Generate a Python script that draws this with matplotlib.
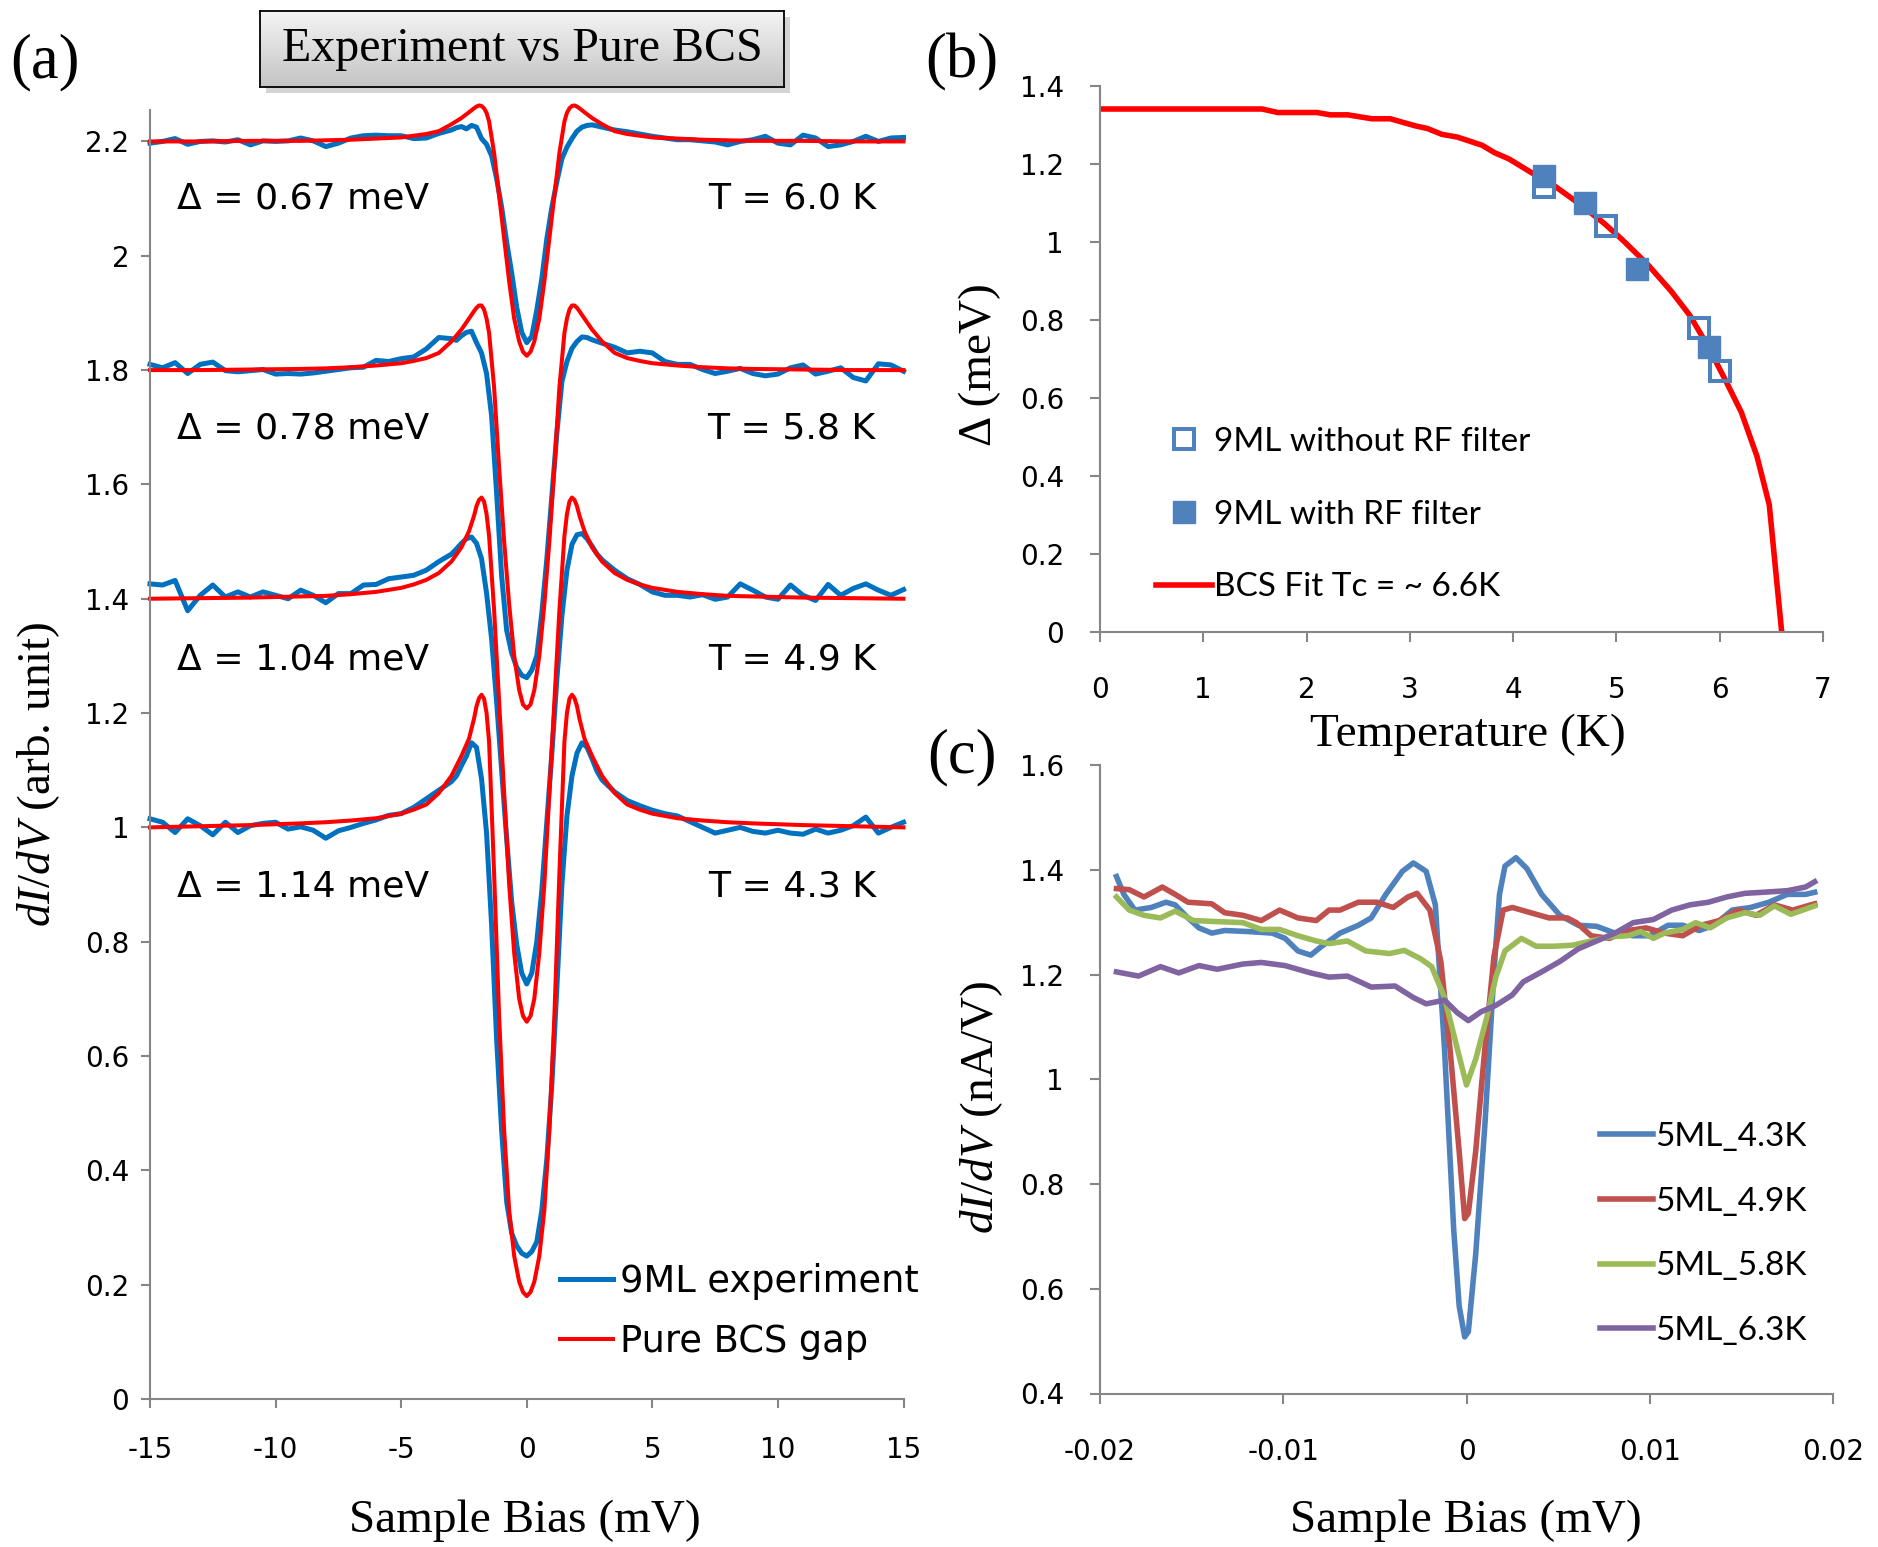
import numpy as np
import matplotlib
matplotlib.use("Agg")
import matplotlib.pyplot as plt
from matplotlib.patches import Rectangle
from matplotlib.colors import LinearSegmentedColormap

W, H = 1878, 1547

# ---------------- panel (a): 9ML spectra vs pure BCS ----------------
bias_exp = [-15.0, -14.5, -14.0, -13.5, -13.0, -12.5, -12.0, -11.5, -11.0, -10.5, -10.0, -9.5,
            -9.0, -8.5, -8.0, -7.5, -7.0, -6.5, -6.0, -5.5, -5.0, -4.5, -4.0, -3.5,
            -3.0, -2.8, -2.6, -2.4, -2.2, -2.0, -1.8, -1.6, -1.4, -1.2, -1.0, -0.8, -0.6, -0.4, -0.2,
            0.0, 0.2, 0.4, 0.6, 0.8, 1.0, 1.2, 1.4, 1.6, 1.8, 2.0, 2.2, 2.4, 2.6, 2.8, 3.0,
            3.5, 4.0, 4.5, 5.0, 5.5, 6.0, 6.5, 7.0, 7.5, 8.0, 8.5, 9.0,
            9.5, 10.0, 10.5, 11.0, 11.5, 12.0, 12.5, 13.0, 13.5, 14.0, 14.5, 15.0]

exp_43K = [1.015, 1.009, 0.991, 1.015, 1.003, 0.987, 1.009, 0.991, 1.003, 1.007, 1.009, 0.997,
           1.001, 0.995, 0.981, 0.994, 1.000, 1.007, 1.013, 1.021, 1.024, 1.035, 1.050, 1.065,
           1.080, 1.090, 1.108, 1.125, 1.148, 1.140, 1.085, 0.990, 0.830, 0.630, 0.470, 0.345, 0.290,
           0.268, 0.255, 0.250, 0.258, 0.275, 0.330, 0.420, 0.550, 0.720, 0.900, 1.020, 1.090, 1.130,
           1.148, 1.140, 1.120, 1.098, 1.083,
           1.062, 1.047, 1.038, 1.030, 1.024, 1.020, 1.010, 1.000, 0.990, 0.995, 1.000, 0.993,
           0.990, 0.995, 0.990, 0.988, 0.997, 0.990, 0.995, 1.003, 1.018, 0.990, 1.000, 1.009]

exp_49K = [1.426, 1.424, 1.432, 1.379, 1.406, 1.424, 1.403, 1.412, 1.403, 1.412, 1.406, 1.400,
           1.415, 1.406, 1.393, 1.409, 1.409, 1.424, 1.425, 1.435, 1.438, 1.441, 1.450, 1.465,
           1.478, 1.487, 1.497, 1.505, 1.508, 1.497, 1.470, 1.410, 1.330, 1.220, 1.100, 0.980, 0.870,
           0.795, 0.745, 0.726, 0.745, 0.800, 0.890, 1.010, 1.130, 1.260, 1.370, 1.450, 1.495, 1.512,
           1.514, 1.505, 1.492, 1.478, 1.468,
           1.450, 1.435, 1.425, 1.412, 1.406, 1.406, 1.403, 1.407, 1.399, 1.403, 1.426, 1.415,
           1.403, 1.399, 1.424, 1.406, 1.397, 1.425, 1.406, 1.418, 1.426, 1.415, 1.406, 1.416]

exp_58K = [1.810, 1.804, 1.813, 1.794, 1.810, 1.814, 1.799, 1.797, 1.799, 1.801, 1.793, 1.794,
           1.793, 1.795, 1.798, 1.801, 1.804, 1.805, 1.817, 1.815, 1.820, 1.823, 1.837, 1.857,
           1.855, 1.852, 1.860, 1.866, 1.868, 1.848, 1.830, 1.794, 1.720, 1.585, 1.440, 1.345, 1.305,
           1.280, 1.266, 1.262, 1.275, 1.300, 1.375, 1.470, 1.580, 1.690, 1.780, 1.815, 1.838, 1.850,
           1.858, 1.857, 1.853, 1.850, 1.847,
           1.840, 1.830, 1.833, 1.830, 1.815, 1.810, 1.810, 1.801, 1.794, 1.798, 1.803, 1.794,
           1.790, 1.793, 1.804, 1.809, 1.793, 1.798, 1.804, 1.787, 1.781, 1.811, 1.809, 1.798]

exp_60K = [2.197, 2.200, 2.205, 2.195, 2.200, 2.201, 2.199, 2.203, 2.194, 2.201, 2.200, 2.201,
           2.206, 2.201, 2.191, 2.197, 2.206, 2.210, 2.211, 2.210, 2.210, 2.205, 2.206, 2.214,
           2.220, 2.224, 2.226, 2.222, 2.228, 2.225, 2.205, 2.195, 2.175, 2.135, 2.085, 2.024, 1.970,
           1.910, 1.866, 1.848, 1.859, 1.905, 1.960, 2.030, 2.085, 2.130, 2.170, 2.190, 2.205, 2.218,
           2.225, 2.228, 2.229, 2.227, 2.225,
           2.220, 2.217, 2.213, 2.209, 2.206, 2.203, 2.203, 2.201, 2.199, 2.194, 2.200, 2.203,
           2.209, 2.197, 2.194, 2.211, 2.206, 2.191, 2.194, 2.200, 2.209, 2.200, 2.206, 2.207]

bias_bcs = [-15, -13, -11, -9, -8, -7, -6, -5, -4.5, -4, -3.5, -3, -2.6, -2.3, -2.1, -2.0,
            -1.9, -1.8, -1.7, -1.6, -1.5, -1.3, -1.1, -0.9, -0.7, -0.5, -0.3, -0.15, 0,
            0.15, 0.3, 0.5, 0.7, 0.9, 1.1, 1.3, 1.5, 1.6, 1.7, 1.8, 1.9, 2.0, 2.1, 2.3, 2.6,
            3, 3.5, 4, 4.5, 5, 6, 7, 8, 9, 11, 13, 15]

bcs_43K = [1.000, 1.002, 1.004, 1.007, 1.009, 1.012, 1.016, 1.024, 1.031, 1.040, 1.060, 1.090,
           1.125, 1.155, 1.190, 1.212, 1.226, 1.232, 1.225, 1.200, 1.150, 0.920, 0.670, 0.470,
           0.330, 0.250, 0.205, 0.187, 0.180,
           0.187, 0.205, 0.250, 0.330, 0.470, 0.670, 0.920, 1.150, 1.200, 1.225, 1.232, 1.226,
           1.212, 1.190, 1.155, 1.125, 1.090, 1.060, 1.040, 1.031, 1.024, 1.016, 1.012, 1.009,
           1.007, 1.004, 1.002, 1.000]

bcs_49K = [1.400, 1.401, 1.402, 1.404, 1.405, 1.408, 1.412, 1.419, 1.425, 1.433, 1.445, 1.465,
           1.490, 1.518, 1.545, 1.562, 1.573, 1.577, 1.570, 1.548, 1.510, 1.380, 1.220, 1.060,
           0.900, 0.780, 0.700, 0.670, 0.660,
           0.670, 0.700, 0.780, 0.900, 1.060, 1.220, 1.380, 1.510, 1.548, 1.570, 1.577, 1.573,
           1.562, 1.545, 1.518, 1.490, 1.465, 1.445, 1.433, 1.425, 1.419, 1.412, 1.408, 1.405,
           1.404, 1.402, 1.401, 1.400]

bcs_58K = [1.800, 1.800, 1.801, 1.802, 1.803, 1.805, 1.808, 1.812, 1.816, 1.821, 1.830, 1.850,
           1.871, 1.890, 1.903, 1.909, 1.913, 1.913, 1.906, 1.890, 1.865, 1.770, 1.630, 1.500,
           1.390, 1.300, 1.240, 1.215, 1.208,
           1.215, 1.240, 1.300, 1.390, 1.500, 1.630, 1.770, 1.865, 1.890, 1.906, 1.913, 1.913,
           1.909, 1.903, 1.890, 1.871, 1.850, 1.830, 1.821, 1.816, 1.812, 1.808, 1.805, 1.803,
           1.802, 1.801, 1.800, 1.800]

bcs_60K = [2.200, 2.200, 2.201, 2.201, 2.202, 2.203, 2.205, 2.207, 2.210, 2.213, 2.218, 2.230,
           2.241, 2.251, 2.258, 2.261, 2.263, 2.262, 2.258, 2.250, 2.235, 2.180, 2.105, 2.030,
           1.955, 1.890, 1.850, 1.832, 1.825,
           1.832, 1.850, 1.890, 1.955, 2.030, 2.105, 2.180, 2.235, 2.250, 2.258, 2.262, 2.263,
           2.261, 2.258, 2.251, 2.241, 2.230, 2.218, 2.213, 2.210, 2.207, 2.205, 2.203, 2.202,
           2.201, 2.201, 2.200, 2.200]

gap_labels = ["Δ = 1.14 meV", "Δ = 1.04 meV", "Δ = 0.78 meV", "Δ = 0.67 meV"]
temp_labels = ["T = 4.3 K", "T = 4.9 K", "T = 5.8 K", "T = 6.0 K"]

# ---------------- panel (b): gap vs temperature ----------------
T_no_filter = [4.3, 4.9, 5.8, 6.0]
gap_no_filter = [1.14, 1.04, 0.78, 0.67]
T_filter = [4.3, 4.7, 5.2, 5.9]
gap_filter = [1.17, 1.10, 0.93, 0.73]
T_fit = [0, 1.57, 1.72, 2.1, 2.23, 2.4, 2.63, 2.81, 3.05, 3.17, 3.31, 3.46, 3.7, 3.82, 3.96,
         4.17, 4.41, 4.64, 4.88, 5.06, 5.3, 5.53, 5.71, 5.89, 6.07, 6.21, 6.36, 6.48, 6.6]
gap_fit = [1.341, 1.341, 1.332, 1.332, 1.326, 1.326, 1.316, 1.316, 1.298, 1.291, 1.276, 1.269,
           1.248, 1.229, 1.213, 1.179, 1.142, 1.098, 1.048, 1.005, 0.943, 0.874, 0.812, 0.731,
           0.638, 0.563, 0.451, 0.326, 0.0]

# ---------------- panel (c): 5ML spectra ----------------
bias_5ML_43K = [-0.0191, -0.0187, -0.0181, -0.0172, -0.0164, -0.0159, -0.0152, -0.0146, -0.0139,
                -0.0132, -0.0119, -0.0106, -0.0099, -0.0092, -0.0085, -0.0079, -0.0069, -0.0059,
                -0.0052, -0.0044, -0.0035, -0.0029, -0.0022, -0.0017, -0.0012, -0.0007, -0.0004,
                -0.0001, 0.0001, 0.0005, 0.0010, 0.0015, 0.0018, 0.0021, 0.0027, 0.0033, 0.0041,
                0.0051, 0.0061, 0.0071, 0.0081, 0.0091, 0.0100, 0.0110, 0.0118, 0.0127, 0.0135,
                0.0145, 0.0155, 0.0165, 0.0175, 0.0185, 0.0190]
didv_5ML_43K = [1.387, 1.353, 1.323, 1.328, 1.338, 1.333, 1.308, 1.289, 1.279, 1.284, 1.282, 1.279,
                1.269, 1.245, 1.237, 1.254, 1.279, 1.294, 1.308, 1.353, 1.397, 1.413, 1.397, 1.333,
                1.058, 0.714, 0.567, 0.508, 0.518, 0.665, 0.911, 1.205, 1.353, 1.407, 1.423, 1.402,
                1.353, 1.313, 1.294, 1.292, 1.279, 1.274, 1.274, 1.294, 1.294, 1.284, 1.294, 1.323,
                1.328, 1.338, 1.353, 1.353, 1.357]

bias_5ML_49K = [-0.0191, -0.0184, -0.0176, -0.0166, -0.0159, -0.0152, -0.0139, -0.0132, -0.0122,
                -0.0112, -0.0102, -0.0092, -0.0082, -0.0075, -0.0069, -0.0059, -0.0049, -0.0040,
                -0.0032, -0.0027, -0.0020, -0.0014, -0.0009, -0.0004, -0.0001, 0.0001, 0.0005,
                0.0010, 0.0015, 0.0020, 0.0025, 0.0035, 0.0045, 0.0055, 0.0060, 0.0068, 0.0078,
                0.0088, 0.0098, 0.0108, 0.0118, 0.0128, 0.0138, 0.0148, 0.0158, 0.0168, 0.0178, 0.0190]
didv_5ML_49K = [1.364, 1.362, 1.348, 1.367, 1.353, 1.338, 1.335, 1.318, 1.313, 1.303, 1.323, 1.308,
                1.303, 1.323, 1.323, 1.338, 1.338, 1.328, 1.348, 1.355, 1.323, 1.225, 1.058, 0.862,
                0.734, 0.744, 0.862, 1.058, 1.235, 1.323, 1.328, 1.318, 1.308, 1.308, 1.299, 1.274,
                1.269, 1.284, 1.289, 1.279, 1.274, 1.294, 1.303, 1.323, 1.313, 1.333, 1.323, 1.335]

bias_5ML_58K = [-0.0191, -0.0184, -0.0176, -0.0167, -0.0159, -0.0149, -0.0136, -0.0122, -0.0112,
                -0.0102, -0.0092, -0.0082, -0.0075, -0.0065, -0.0055, -0.0042, -0.0034, -0.0025,
                -0.0019, -0.0012, -0.0005, 0.0000, 0.0005, 0.0011, 0.0016, 0.0021, 0.0030, 0.0038,
                0.0048, 0.0058, 0.0068, 0.0078, 0.0088, 0.0095, 0.0102, 0.0108, 0.0118, 0.0125,
                0.0133, 0.0142, 0.0152, 0.0160, 0.0168, 0.0177, 0.0190]
didv_5ML_58K = [1.348, 1.323, 1.313, 1.308, 1.321, 1.303, 1.301, 1.299, 1.286, 1.286, 1.274, 1.264,
                1.259, 1.264, 1.245, 1.240, 1.246, 1.230, 1.215, 1.156, 1.058, 0.989, 1.038, 1.117,
                1.195, 1.245, 1.269, 1.254, 1.254, 1.256, 1.264, 1.272, 1.274, 1.282, 1.269, 1.279,
                1.286, 1.299, 1.289, 1.308, 1.318, 1.313, 1.331, 1.315, 1.331]

bias_5ML_63K = [-0.0191, -0.0179, -0.0167, -0.0157, -0.0146, -0.0136, -0.0122, -0.0112, -0.0099,
                -0.0085, -0.0075, -0.0065, -0.0052, -0.0039, -0.0029, -0.0022, -0.0012, -0.0005,
                0.0001, 0.0008, 0.0016, 0.0025, 0.0031, 0.0041, 0.0051, 0.0061, 0.0071, 0.0081,
                0.0091, 0.0102, 0.0112, 0.0122, 0.0132, 0.0142, 0.0152, 0.0162, 0.0175, 0.0185, 0.0190]
didv_5ML_63K = [1.205, 1.197, 1.215, 1.203, 1.217, 1.210, 1.220, 1.223, 1.217, 1.203, 1.195, 1.197,
                1.176, 1.178, 1.156, 1.144, 1.151, 1.127, 1.112, 1.129, 1.141, 1.161, 1.186, 1.205,
                1.225, 1.249, 1.264, 1.279, 1.299, 1.305, 1.323, 1.333, 1.338, 1.348, 1.355, 1.357,
                1.360, 1.367, 1.377]

AXIS_GRAY = "#868686"
SERIF = "Liberation Serif"

plt.rcParams["font.family"] = ["DejaVu Sans"]
plt.rcParams["mathtext.fontset"] = "custom"
plt.rcParams["mathtext.it"] = "Liberation Serif:italic"
plt.rcParams["mathtext.rm"] = "Liberation Serif"


def px_box(x0, y0, x1, y1):
    """Axes rectangle from pixel corners (top-left origin)."""
    return [x0 / W, 1 - y1 / H, (x1 - x0) / W, (y1 - y0) / H]


def fig_text(fig, x, y, s, **kw):
    fig.text(x / W, 1 - y / H, s, ha="center", va="center", **kw)


def excel_axes(ax, ypad, xpad, tick_len):
    for side in ("top", "right"):
        ax.spines[side].set_visible(False)
    for side in ("left", "bottom"):
        ax.spines[side].set_color(AXIS_GRAY)
        ax.spines[side].set_linewidth(1.5)
    ax.tick_params(direction="out", length=tick_len, width=1.5, color=AXIS_GRAY,
                   labelsize=20, labelcolor="black")
    ax.tick_params(axis="y", pad=ypad)
    ax.tick_params(axis="x", pad=xpad)


fig = plt.figure(figsize=(W / 100, H / 100), dpi=100)
fig.patch.set_facecolor("white")

# ---- (a)
ax_a = fig.add_axes(px_box(150, 110, 903.5, 1399))
blue, red = "#0070C0", "#FF0000"
for i, ys in enumerate([exp_43K, exp_49K, exp_58K, exp_60K]):
    ax_a.plot(bias_exp, ys, color=blue, lw=3.6, clip_on=False,
              label="9ML experiment" if i == 0 else None)
for i, ys in enumerate([bcs_43K, bcs_49K, bcs_58K, bcs_60K]):
    ax_a.plot(bias_bcs, ys, color=red, lw=2.9, clip_on=False,
              label="Pure BCS gap" if i == 0 else None)
ax_a.set_xlim(-15, 15)
ax_a.set_ylim(0, 2.255)
yt = [0, 0.2, 0.4, 0.6, 0.8, 1.0, 1.2, 1.4, 1.6, 1.8, 2.0, 2.2]
ax_a.set_yticks(yt, [f"{v:g}" for v in yt])
xt = [-15, -10, -5, 0, 5, 10, 15]
ax_a.set_xticks(xt, [str(v) for v in xt])
excel_axes(ax_a, ypad=8.5, xpad=20, tick_len=6.5)

for base, gl, tl in zip([0.8785, 1.2755, 1.6795, 2.0825], gap_labels, temp_labels):
    ax_a.text(-13.92, base, gl, ha="left", va="baseline", fontsize=26)
    ax_a.text(13.9, base, tl, ha="right", va="baseline", fontsize=26)

ax_a.legend(loc="center left", bbox_to_anchor=(0.5445, 0.068), frameon=False,
            borderpad=0, borderaxespad=0, handlelength=1.44, handletextpad=0.19,
            labelspacing=0.62, fontsize=26.5)

# title box with gradient fill and soft shadow
fig.add_artist(Rectangle((266 / W, 1 - 93 / H), 524 / W, 76 / H, transform=fig.transFigure,
                         facecolor="#a0a0a0", edgecolor="none", alpha=0.45, zorder=1))
ax_t = fig.add_axes(px_box(260, 11, 784, 87), zorder=2)
grad = np.linspace(0, 1, 64).reshape(-1, 1)
ax_t.imshow(grad, aspect="auto", extent=[0, 1, 0, 1],
            cmap=LinearSegmentedColormap.from_list("box", ["#f4f4f4", "#c4c4c4"]))
ax_t.set_xticks([])
ax_t.set_yticks([])
for sp in ax_t.spines.values():
    sp.set_color("black")
    sp.set_linewidth(1.3)
ax_t.text(0.5, 0.5, "Experiment vs Pure BCS", ha="center", va="center",
          family=SERIF, fontsize=34.5, transform=ax_t.transAxes)

fig_text(fig, 45, 62, "(a)", family=SERIF, fontsize=45)
fig_text(fig, 525, 1521, "Sample Bias (mV)", family=SERIF, fontsize=34)
fig_text(fig, 39, 774, r"$dI/dV$ (arb. unit)", family=SERIF, fontsize=34, rotation=90)

# ---- (b)
ax_b = fig.add_axes(px_box(1100, 86, 1823, 632))
steel = "#4F81BD"
ax_b.plot(T_fit, gap_fit, color="#FF0000", lw=4, zorder=2, label="BCS Fit Tc = ~ 6.6K")
ax_b.plot(T_no_filter, gap_no_filter, ls="none", marker="s", ms=15, mfc="none",
          mec=steel, mew=2.9, zorder=3, label="9ML without RF filter")
ax_b.plot(T_filter, gap_filter, ls="none", marker="s", ms=15.5, mfc=steel,
          mec=steel, mew=1, zorder=4, label="9ML with RF filter")
ax_b.set_xlim(0, 7)
ax_b.set_ylim(0, 1.4)
yt = [0, 0.2, 0.4, 0.6, 0.8, 1.0, 1.2, 1.4]
ax_b.set_yticks(yt, [f"{v:g}" for v in yt])
xt = [0, 1, 2, 3, 4, 5, 6, 7]
ax_b.set_xticks(xt, [str(v) for v in xt])
excel_axes(ax_b, ypad=19, xpad=25, tick_len=7)
h, l = ax_b.get_legend_handles_labels()
ax_b.legend([h[1], h[2], h[0]], [l[1], l[2], l[0]], loc="center left",
            bbox_to_anchor=(0.0775, 0.215), frameon=False, borderpad=0, borderaxespad=0,
            handlelength=1.68, handletextpad=0.06, labelspacing=1.28, numpoints=1,
            prop={"family": "Lato", "size": 24})

fig_text(fig, 962, 62, "(b)", family=SERIF, fontsize=45)
fig_text(fig, 1468, 735, "Temperature (K)", family=SERIF, fontsize=34)
fig_text(fig, 980, 365, "Δ (meV)", family=SERIF, fontsize=34, rotation=90)

# ---- (c)
ax_c = fig.add_axes(px_box(1100, 765, 1833, 1393.5))
series_c = [
    (bias_5ML_43K, didv_5ML_43K, "#4F81BD", "5ML_4.3K"),
    (bias_5ML_49K, didv_5ML_49K, "#C0504D", "5ML_4.9K"),
    (bias_5ML_58K, didv_5ML_58K, "#9BBB59", "5ML_5.8K"),
    (bias_5ML_63K, didv_5ML_63K, "#8064A2", "5ML_6.3K"),
]
for xs, ys, col, lab in series_c:
    ax_c.plot(xs, ys, color=col, lw=4, label=lab)
ax_c.set_xlim(-0.02, 0.02)
ax_c.set_ylim(0.4, 1.6)
yt = [0.4, 0.6, 0.8, 1.0, 1.2, 1.4, 1.6]
ax_c.set_yticks(yt, [f"{v:g}" for v in yt])
xt = [-0.02, -0.01, 0, 0.01, 0.02]
ax_c.set_xticks(xt, ["-0.02", "-0.01", "0", "0.01", "0.02"])
excel_axes(ax_c, ypad=19, xpad=25, tick_len=7)
ax_c.legend(loc="center left", bbox_to_anchor=(0.682, 0.2538), frameon=False,
            borderpad=0, borderaxespad=0, handlelength=1.59, handletextpad=0.06,
            labelspacing=1.04, prop={"family": "Lato", "size": 24})

fig_text(fig, 962, 757, "(c)", family=SERIF, fontsize=45)
fig_text(fig, 1466, 1521, "Sample Bias (mV)", family=SERIF, fontsize=34)
fig_text(fig, 982, 1107, r"$dI/dV$ (nA/V)", family=SERIF, fontsize=34, rotation=90)

fig.savefig("out.png", dpi=100, facecolor="white")
